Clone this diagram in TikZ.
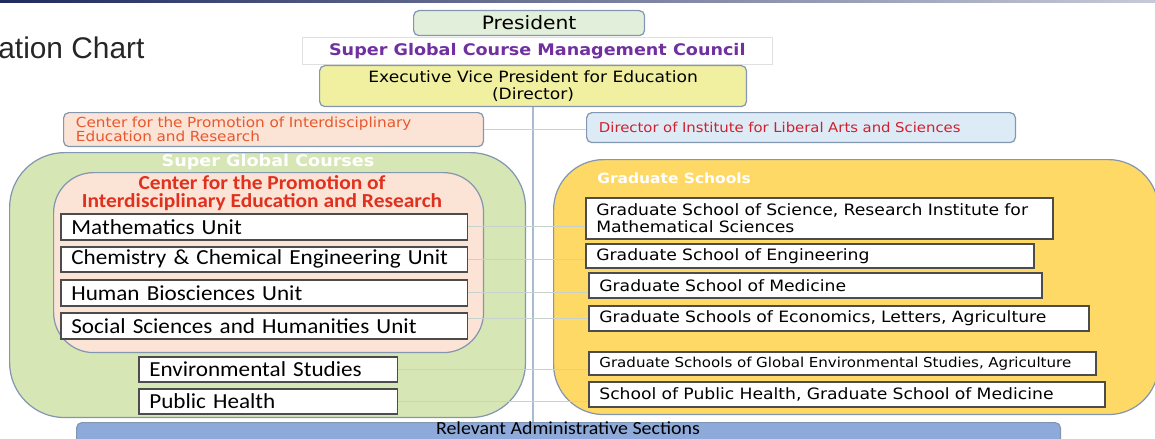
\documentclass[tikz,border=0pt]{standalone}
\usepackage{fontspec}
\setmainfont{DejaVu Sans}[FakeStretch=1.1]
\newfontfamily\calib{Carlito}[FakeStretch=1.08]
\newfontfamily\arialf{Liberation Sans}
\usetikzlibrary{positioning}
\definecolor{bordgray}{HTML}{8497B0}
\definecolor{pgreen}{HTML}{E2EFDA}
\definecolor{sgreen}{HTML}{D6E6B5}
\definecolor{speach}{HTML}{FBE3D6}
\definecolor{syellow}{HTML}{FFD966}
\definecolor{pyellow}{HTML}{F0F0A0}
\definecolor{pblue}{HTML}{DDEBF7}
\definecolor{adminblue}{HTML}{8EAADB}
\definecolor{cpurple}{HTML}{7030A0}
\definecolor{corange}{HTML}{E8582E}
\definecolor{cred}{HTML}{E0301E}
\definecolor{dred}{HTML}{D0202E}
\definecolor{linkgray}{HTML}{C8D2CC}
\definecolor{trunkblue}{HTML}{A9BBD0}
\definecolor{navy}{HTML}{1F2A5E}

\tikzset{
  headbox/.style={draw=bordgray, line width=0.7pt, rounded corners=3pt, anchor=north west, inner sep=0pt},
  groupbox/.style={draw=bordgray, line width=0.7pt, anchor=north west, inner sep=0pt},
  unitbox/.style={draw=black!70, fill=white, line width=0.9pt, anchor=north west, inner xsep=6pt, inner ysep=0pt, align=left},
  unitfont/.style={font=\calib\fontsize{12.2}{14}\selectfont},
  gradfont/.style={font=\fontsize{8.9}{10}\selectfont},
  link/.style={draw=linkgray, line width=0.8pt},
}

\begin{document}
\begin{tikzpicture}[x=0.02cm, y=-0.02cm]
        \useasboundingbox (0,0) rectangle (1155,439);
        \clip (0,0) rectangle (1155,439);
        \shade[left color=navy, right color=navy!25] (0,0) rectangle (1155,3);
        \node[anchor=west, inner sep=0pt, text=black!85, font=\arialf\fontsize{17}{20}\selectfont] (title) at (-2,48) {ation Chart};

        % Top of the chart
        \node[headbox, fill=pgreen, minimum width=4.62cm, minimum height=0.5cm, font=\fontsize{10.5}{12}\selectfont] (president) at (413,10) {President};
        \node[draw=black!12, fill=white, anchor=north west, inner sep=0pt, minimum width=9.4cm, minimum height=0.54cm, text=cpurple, font=\bfseries\fontsize{9.1}{11}\selectfont] (council) at (302,37) {Super Global Course Management Council};
        \node[headbox, fill=pyellow, minimum width=8.54cm, minimum height=0.82cm, align=center, font=\fontsize{8.85}{10}\selectfont] (evp) at (319,65) {Executive Vice President for Education\\(Director)};
        \node[headbox, fill=speach, inner xsep=7pt, text width=7.906cm, minimum height=0.68cm, align=left, text=corange, font=\fontsize{7.9}{8.2}\selectfont] (cipe) at (63,112) {Center for the Promotion of Interdisciplinary\\Education and Research};
        \node[headbox, fill=pblue, inner xsep=7pt, text width=8.086cm, minimum height=0.6cm, align=left, text=dred, font=\fontsize{7.7}{9}\selectfont] (dila) at (586,112) {Director of Institute for Liberal Arts and Sciences};

        % Groups
        \node[groupbox, fill=sgreen, rounded corners=1.1cm, minimum width=10.32cm, minimum height=5.3cm] (sgc) at (9,152) {};
        \node[groupbox, fill=speach, rounded corners=0.8cm, minimum width=8.6cm, minimum height=3.6cm] (cipebox) at (53,172) {};
        \node[groupbox, fill=syellow, rounded corners=1cm, minimum width=12.1cm, minimum height=5.1cm] (gs) at (553,159) {};
        \node[headbox, fill=adminblue, minimum width=19.68cm, minimum height=0.9cm] (admin) at (76,422) {};

        % Add labels
        \node[text=white, font=\bfseries\fontsize{9.1}{11}\selectfont] (sgctitle) at (268,162) {Super Global Courses};
        \node[text=cred, align=center, inner sep=0pt, font=\calib\bfseries\fontsize{11.3}{9.8}\selectfont] (cipetitle) at (262,193) {Center for the Promotion of\\Interdisciplinary Education and Research};
        \node[anchor=west, inner sep=0pt, text=white, font=\bfseries\fontsize{8}{10}\selectfont] (gstitle) at (597,178) {Graduate Schools};
        \node[anchor=base, inner sep=0pt, font=\calib\fontsize{10.5}{12}\selectfont] (admintitle) at (568,434) {Relevant Administrative Sections};

        % Units
        \node[unitbox, unitfont, text width=7.717cm, minimum height=0.52cm] (math) at (60,213) {Mathematics Unit};
        \node[unitbox, unitfont, text width=7.717cm, minimum height=0.5cm] (chem) at (60,246) {Chemistry \& Chemical Engineering Unit};
        \node[unitbox, unitfont, text width=7.717cm, minimum height=0.52cm] (human) at (60,279) {Human Biosciences Unit};
        \node[unitbox, unitfont, text width=7.717cm, minimum height=0.52cm] (social) at (60,312) {Social Sciences and Humanities Unit};
        \node[unitbox, unitfont, text width=4.757cm, minimum height=0.5cm] (env) at (138,356) {Environmental Studies};
        \node[unitbox, unitfont, text width=4.757cm, minimum height=0.5cm] (ph) at (138,388) {Public Health};

        % Graduate schools
        \node[unitbox, gradfont, text width=8.92cm, minimum height=0.82cm] (gss) at (585,197) {Graduate School of Science, Research Institute for\\Mathematical Sciences};
        \node[unitbox, gradfont, text width=8.54cm, minimum height=0.48cm] (eng) at (585,243) {Graduate School of Engineering};
        \node[unitbox, gradfont, text width=8.64cm, minimum height=0.5cm] (med) at (588,272) {Graduate School of Medicine};
        \node[unitbox, gradfont, text width=9.58cm, minimum height=0.5cm] (econ) at (588,305) {Graduate Schools of Economics, Letters, Agriculture};
        \node[unitbox, font=\fontsize{7.8}{9}\selectfont, text width=9.72cm, minimum height=0.46cm] (genv) at (588,351) {Graduate Schools of Global Environmental Studies, Agriculture};
        \node[unitbox, gradfont, text width=9.9cm, minimum height=0.5cm] (sph) at (588,381) {School of Public Health, Graduate School of Medicine};

        % Draw lines
        \draw[draw=trunkblue, line width=0.7pt] (evp.south) -- (evp.south |- admin.north);
        \draw[link] (cipe.east) -- (cipe.east -| dila.west);
        \draw[link] (math.east) -- (math.east -| gss.west);
        \draw[link] (chem.east) -- (chem.east -| eng.west);
        \draw[link] (human.east) -- (human.east -| med.west);
        \draw[link] (econ.west) -- (econ.west -| social.east);
        \draw[link] (env.east) -- (env.east -| genv.west);
        \draw[link] (ph.east) -- (ph.east -| sph.west);
\end{tikzpicture}
\end{document}
